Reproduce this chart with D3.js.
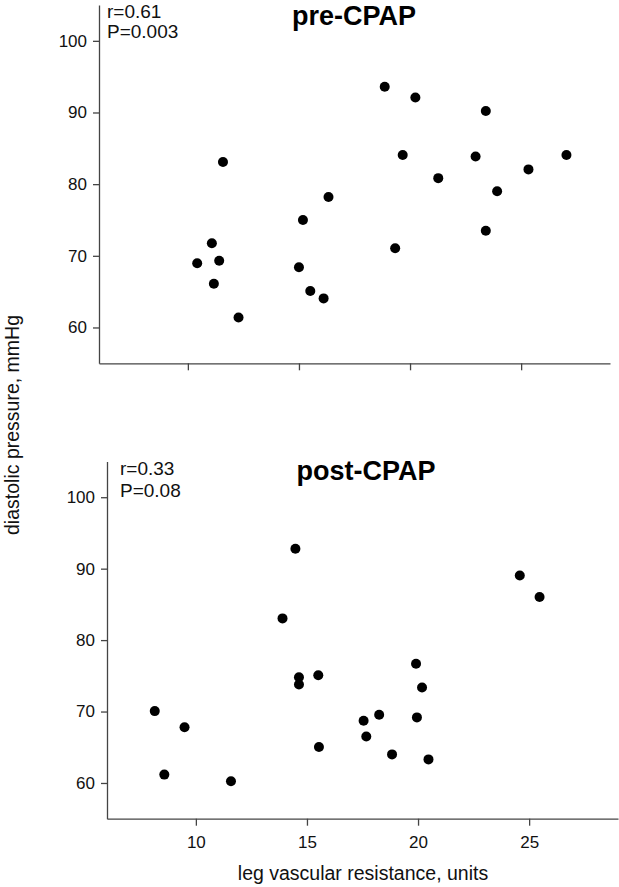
<!DOCTYPE html>
<html>
<head>
<meta charset="utf-8">
<script src="https://cdn.jsdelivr.net/npm/d3@7/dist/d3.min.js"></script>
<style>
  html, body { margin: 0; padding: 0; background: #fff; }
  svg { display: block; }
  text { font-family: "Liberation Sans", Arial, Helvetica, sans-serif; }
</style>
</head>
<body>
<svg id="chart" width="619" height="887"></svg>
<script>
// ---- data ----
const preX  = [11.58,16.33,15.18,11.08,10.42,11.41,11.17,12.28,15.0,15.51,16.11,18.86,20.24,23.41,19.67,22.95,27.04,21.27,25.33,23.92,23.41,19.33];
const preY  = [83.1,78.2,75.0,71.75,68.95,69.3,66.1,61.4,68.4,65.1,64.06,93.6,92.08,90.2,84.06,83.87,84.06,80.84,82.06,79.0,73.5,71.05];
const postX = [14.48,13.9,14.64,14.64,15.51,8.15,9.49,8.58,11.58,15.54,17.55,17.67,18.25,24.58,25.47,19.91,20.18,19.95,18.83,20.47];
const postY = [92.78,83.04,74.8,73.78,75.08,70.06,67.8,61.17,60.24,65.03,68.7,66.5,69.55,89.05,86.03,76.7,73.37,69.18,64.0,63.3];
const xTicks = [10, 15, 20, 25];
const yTicks = [60, 70, 80, 90, 100];
const xDomain = [6, 29];
const yDomain = [55, 105];
const panelTitles = ["pre-CPAP", "post-CPAP"];
const statR = ["r=0.61", "r=0.33"];
const statP = ["P=0.003", "P=0.08"];
const xTitle = "leg vascular resistance, units";
const yTitle = "diastolic pressure, mmHg";

// ---- layout ----
const svg = d3.select("#chart");
const panels = [
  { xs: preX, ys: preY, left: 99, right: 610, top: 5, bottom: 363.3, showXLabels: false,
    titleX: 354, titleY: 25, statX: 107, statY1: 18, statY2: 38 },
  { xs: postX, ys: postY, left: 107, right: 618, top: 461.5, bottom: 818.7, showXLabels: true,
    titleX: 366, titleY: 480, statX: 120, statY1: 475, statY2: 497 }
];

panels.forEach((p, i) => {
  const x = d3.scaleLinear().domain(xDomain).range([p.left, p.right]);
  const y = d3.scaleLinear().domain(yDomain).range([p.bottom, p.top]);
  const g = svg.append("g");

  const ya = g.append("g")
    .attr("transform", `translate(${p.left},0)`)
    .call(d3.axisLeft(y).tickValues(yTicks).tickSize(6).tickPadding(6).tickSizeOuter(0));
  const xa = g.append("g")
    .attr("transform", `translate(0,${p.bottom})`)
    .call(d3.axisBottom(x).tickValues(xTicks).tickSize(7).tickPadding(10).tickSizeOuter(0)
      .tickFormat(p.showXLabels ? d3.format("d") : () => ""));

  [ya, xa].forEach(a => {
    a.select(".domain").attr("stroke", "#444").attr("stroke-width", 1.3);
    a.selectAll(".tick line").attr("stroke", "#444").attr("stroke-width", 1.3);
    a.selectAll(".tick text").attr("fill", "#111").style("font-size", "17px")
      .style("font-family", '"Liberation Sans", Arial, sans-serif');
  });

  g.selectAll("circle.pt")
    .data(p.xs.map((v, k) => [v, p.ys[k]]))
    .enter().append("circle")
    .attr("class", "pt")
    .attr("cx", d => x(d[0]))
    .attr("cy", d => y(d[1]))
    .attr("r", 5)
    .attr("fill", "#000");

  g.append("text")
    .attr("x", p.titleX).attr("y", p.titleY)
    .attr("text-anchor", "middle")
    .style("font-size", "27px").style("font-weight", "bold")
    .attr("fill", "#000")
    .text(panelTitles[i]);

  g.append("text").attr("x", p.statX).attr("y", p.statY1)
    .style("font-size", "19px").attr("fill", "#111").text(statR[i]);
  g.append("text").attr("x", p.statX).attr("y", p.statY2)
    .style("font-size", "19px").attr("fill", "#111").text(statP[i]);
});

svg.append("text")
  .attr("x", 363).attr("y", 880)
  .attr("text-anchor", "middle")
  .style("font-size", "19.5px").attr("fill", "#111")
  .text(xTitle);

svg.append("text")
  .attr("transform", "translate(18.5,425) rotate(-90)")
  .attr("text-anchor", "middle")
  .style("font-size", "19.5px").attr("fill", "#111")
  .text(yTitle);
</script>
</body>
</html>
